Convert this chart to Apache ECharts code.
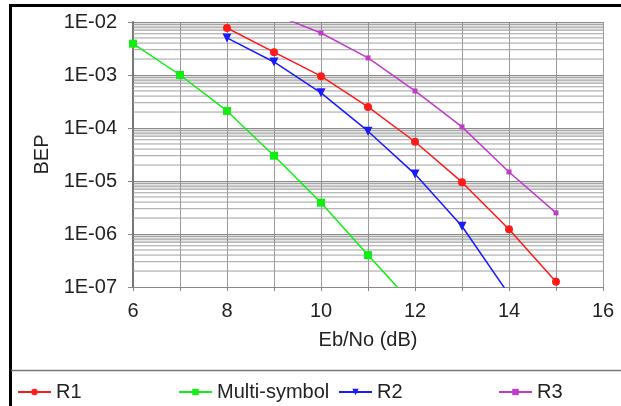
<!DOCTYPE html>
<html>
<head>
<meta charset="utf-8">
<script src="https://cdn.jsdelivr.net/npm/echarts@6/dist/echarts.min.js"></script>
<style>
html,body{margin:0;padding:0;background:#fff;}
#c{width:621px;height:406px;}
</style>
</head>
<body>
<div id="c"></div>
<script>
// ---- data ----
const xR1 = [8, 9, 10, 11, 12, 13, 14, 15];
const yR1 = [7.7e-3, 2.7e-3, 9.5e-4, 2.5e-4, 5.5e-5, 9.5e-6, 1.23e-6, 1.25e-7];

const xMulti = [6, 7, 8, 9, 10, 11, 12];
const yMulti = [3.9e-3, 1.0e-3, 2.1e-4, 3.0e-5, 3.9e-6, 4.0e-7, 4.3e-8];

const xR2 = [8, 9, 10, 11, 12, 13, 14];
const yR2 = [5.0e-3, 1.76e-3, 4.6e-4, 8.7e-5, 1.35e-5, 1.4e-6, 7.2e-8];

const xR3 = [9, 10, 11, 12, 13, 14, 15];
const yR3 = [1.4e-2, 6.2e-3, 2.1e-3, 5.0e-4, 1.05e-4, 1.48e-5, 2.5e-6];

const xTickLabels = [6, 8, 10, 12, 14, 16];
const yTickLabels = ['1E-07', '1E-06', '1E-05', '1E-04', '1E-03', '1E-02'];
const decadeExps = [-7, -6, -5, -4, -3];

// gridline helpers (axis values, not marks)
const minorVals = [];
decadeExps.forEach(e => { for (let m = 2; m <= 9; m++) minorVals.push(m * Math.pow(10, e)); });
const bands = decadeExps.map(e => [7 * Math.pow(10, e), Math.pow(10, e + 1)]);
const minorGridData = [];
minorVals.forEach(v => { minorGridData.push([6, v], [16, v], [16, '-']); });

const pairs = (xs, ys) => xs.map((x, i) => [x, ys[i]]);
const FONT = "'Liberation Sans', Arial, sans-serif";

const chart = echarts.init(document.getElementById('c'), null, {renderer: 'canvas'});

function mkSeries(name, xs, ys, color, symbol, size, rot) {
  return {
    name, type: 'line', data: pairs(xs, ys), clip: true,
    symbol, symbolSize: size, symbolRotate: rot || 0, showSymbol: true,
    lineStyle: {color, width: 1.5},
    itemStyle: {color},
    animation: false, z: 3
  };
}

function mkLegend(name, left) {
  return {
    data: [name], left, top: 377, itemWidth: 33, itemHeight: 8, itemGap: 0,
    textStyle: {fontFamily: FONT, fontSize: 20, color: '#222'},
    padding: 5
  };
}

chart.setOption({
  animation: false,
  backgroundColor: '#fff',
  grid: {left: 133, right: 18, top: 22, bottom: 119, containLabel: false},
  xAxis: {
    type: 'value', min: 6, max: 16, interval: 1,
    name: 'Eb/No (dB)', nameLocation: 'middle', nameGap: 43,
    nameTextStyle: {fontFamily: FONT, fontSize: 20, color: '#222'},
    axisLine: {show: true, lineStyle: {color: '#888', width: 1}},
    axisTick: {show: true, length: 4, lineStyle: {color: '#888'}},
    axisLabel: {
      fontFamily: FONT, fontSize: 20, color: '#222', margin: 14,
      formatter: v => (xTickLabels.indexOf(v) >= 0 ? String(v) : '')
    },
    splitLine: {show: true, lineStyle: {color: '#9a9a9a', width: 1}}
  },
  yAxis: {
    type: 'log', logBase: 10, min: 1e-7, max: 1e-2,
    name: 'BEP', nameLocation: 'middle', nameGap: 76, nameRotate: 90,
    nameTextStyle: {fontFamily: FONT, fontSize: 20, color: '#222'},
    axisLine: {show: true, lineStyle: {color: '#777', width: 2}},
    axisTick: {show: true, length: 5, lineStyle: {color: '#888'}},
    minorTick: {show: false},
    axisLabel: {
      fontFamily: FONT, fontSize: 20, color: '#222', margin: 16,
      formatter: v => {
        const e = Math.round(Math.log10(v));
        const idx = e + 7;
        return yTickLabels[idx] !== undefined ? yTickLabels[idx] : '';
      }
    },
    splitLine: {show: true, lineStyle: {color: '#9a9a9a', width: 1}}
  },
  legend: [
    mkLegend('R1', 12),
    mkLegend('Multi-symbol', 173),
    mkLegend('R2', 333),
    mkLegend('R3', 493)
  ],
  graphic: [
    {type: 'rect', shape: {x: 9, y: 4, width: 612, height: 3}, style: {fill: '#000'}, z: 100},
    {type: 'rect', shape: {x: 9, y: 4, width: 3, height: 402}, style: {fill: '#000'}, z: 100},
    {type: 'line', shape: {x1: 11, y1: 370.5, x2: 621, y2: 370.5}, style: {stroke: '#777', lineWidth: 1.5}, z: 100}
  ],
  series: [
    {
      name: '_grid', type: 'line', data: minorGridData, connectNulls: false,
      symbol: 'none', lineStyle: {color: '#a0a0a0', width: 1}, silent: true, animation: false, z: 1,
      emphasis: {disabled: true},
      markArea: {
        silent: true,
        itemStyle: {color: 'rgba(0,0,0,0.1)'},
        data: bands.map(b => [{yAxis: b[0]}, {yAxis: b[1]}])
      }
    },
    mkSeries('R1', xR1, yR1, '#ff1a1a', 'circle', 8),
    mkSeries('Multi-symbol', xMulti, yMulti, '#11ee11', 'rect', 8),
    mkSeries('R2', xR2, yR2, '#1a1aff', 'triangle', 9, 180),
    mkSeries('R3', xR3, yR3, '#c03cc8', 'rect', 5)
  ]
});
</script>
</body>
</html>
